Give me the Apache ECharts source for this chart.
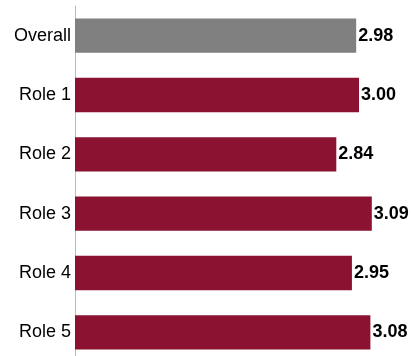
<!DOCTYPE html>
<html><head><meta charset="utf-8">
<script src="https://cdn.jsdelivr.net/npm/echarts@6/dist/echarts.min.js"></script>
<style>html,body{margin:0;padding:0;background:#fff;overflow:hidden}#c{width:411px;height:362px}</style>
</head><body><div id="c"></div>
<script>
const categories = ["Overall", "Role 1", "Role 2", "Role 3", "Role 4", "Role 5"];
const values = [2.98, 3.00, 2.84, 3.09, 2.95, 3.08];
const barColors = ["#808080", "#8B1230", "#8B1230", "#8B1230", "#8B1230", "#8B1230"];

const chart = echarts.init(document.getElementById('c'), null, {renderer: 'canvas'});
chart.setOption({
  animation: false,
  grid: {left: 75, right: 0, top: 6, bottom: 0, containLabel: false},
  xAxis: {type: 'value', min: 1, max: 3.366, show: false},
  yAxis: {
    type: 'category', data: categories, inverse: true,
    axisLine: {show: true, lineStyle: {color: '#BBBBBB', width: 1}},
    axisTick: {show: false},
    axisLabel: {color: '#000', fontSize: 18, fontFamily: 'Liberation Sans, Arial, sans-serif', margin: 4}
  },
  series: [{
    type: 'bar', barWidth: '58%',
    data: values.map((v, i) => ({value: v, itemStyle: {color: barColors[i]}})),
    label: {show: true, position: 'right', distance: 2, formatter: p => p.value.toFixed(2),
      color: '#000', fontWeight: 'bold', fontSize: 18, fontFamily: 'Liberation Sans, Arial, sans-serif'}
  }]
});
</script></body></html>
